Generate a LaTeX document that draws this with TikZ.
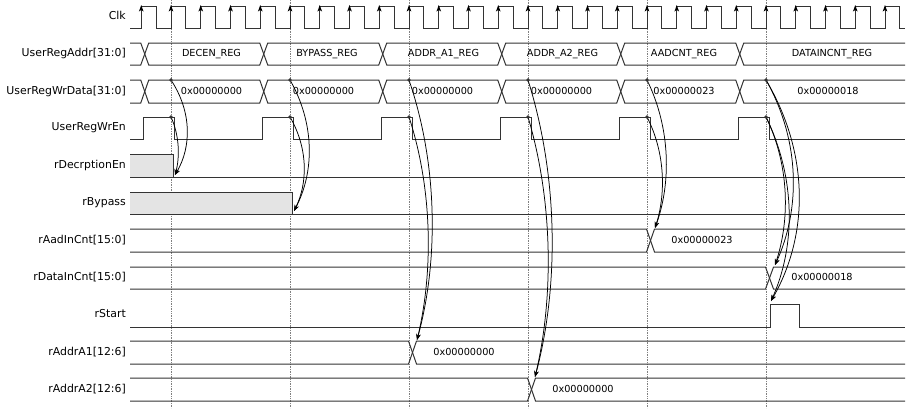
\documentclass[tikz,border=0pt]{standalone}
\usepackage{fontspec}
\setmainfont{DejaVu Sans}
\usetikzlibrary{arrows.meta}
\definecolor{wavecol}{HTML}{333333}
\definecolor{fillcol}{HTML}{E4E4E4}
\definecolor{guidecol}{HTML}{808080}
\newcommand\wvStart[4]{\draw[wave] (#1,#3) -- ({#2-4},#3) -- (#2,{(#3+#4)/2}) -- ({#2-4},#4) -- (#1,#4);}
\newcommand\wvMid[4]{\draw[wave] (#1,{(#3+#4)/2}) -- ({#1+4},#3) -- ({#2-4},#3) -- (#2,{(#3+#4)/2}) -- ({#2-4},#4) -- ({#1+4},#4) -- cycle;}
\newcommand\wvEnd[4]{\draw[wave] (#2,#3) -- ({#1+4},#3) -- (#1,{(#3+#4)/2}) -- ({#1+4},#4) -- (#2,#4);}
\begin{document}
\begin{tikzpicture}[x=1pt,y=-1pt,
  wave/.style={draw=wavecol, line width=1pt},
  guide/.style={draw=guidecol, line width=0.7pt, dash pattern=on 0.8pt off 0.9pt},
  lbl/.style={anchor=east, inner sep=0pt, font=\fontsize{10.9}{12}\selectfont, text height=8pt, text depth=2.2pt},
  val/.style={inner sep=0pt, font=\fontsize{9.7}{11}\selectfont, text height=7pt, text depth=2pt},
  cause/.style={draw=black, line width=0.75pt, -{Stealth[length=6pt,width=4.4pt]}},
  clkarr/.style={fill=black, draw=none},
  dot/.style={circle, fill=wavecol, inner sep=0pt, minimum size=3.6pt}]
\useasboundingbox (0,0) rectangle (907,408);

% guide lines
\foreach \d in {171,290,409,528,647,766} \draw[guide] (\d,0) -- (\d,408);

% labels
\node[lbl] (lclk) at (126,17) {Clk};
\node[lbl] (laddr) at (126,54) {UserRegAddr[31:0]};
\node[lbl] (ldata) at (126,91.5) {UserRegWrData[31:0]};
\node[lbl] (len) at (126,128) {UserRegWrEn};
\node[lbl] (ldec) at (126,165.5) {rDecrptionEn};
\node[lbl] (lbyp) at (126,203) {rBypass};
\node[lbl] (laad) at (126,240.5) {rAadInCnt[15:0]};
\node[lbl] (ldin) at (126,278) {rDataInCnt[15:0]};
\node[lbl] (lst) at (126,315) {rStart};
\node[lbl] (la1) at (126,352.5) {rAddrA1[12:6]};
\node[lbl] (la2) at (126,389.5) {rAddrA2[12:6]};

% clock
\draw[wave] (130,28) \foreach \k in {0,...,25}{ -- ({141.25+29.75*\k},28) -- ({141.25+29.75*\k},6) -- ({156.125+29.75*\k},6) -- ({156.125+29.75*\k},28) } -- (905,28);
\foreach \k in {0,...,25} \fill[clkarr] ({141.25+29.75*\k},5) -- ({141.25+29.75*\k+2.3},11.5) -- ({141.25+29.75*\k},10) -- ({141.25+29.75*\k-2.3},11.5) -- cycle;

% UserRegAddr
\wvStart{130}{144.75}{43}{65}
\wvMid{144.75}{263.75}{43}{65}
\wvMid{263.75}{382.75}{43}{65}
\wvMid{382.75}{501.75}{43}{65}
\wvMid{501.75}{620.75}{43}{65}
\wvMid{620.75}{739.75}{43}{65}
\wvEnd{739.75}{905}{43}{65}
\node[val] (a1) at (211.5,54) {DECEN\_REG};
\node[val] (a2) at (327,54) {BYPASS\_REG};
\node[val] (a3) at (443.5,54) {ADDR\_A1\_REG};
\node[val] (a4) at (562.5,54) {ADDR\_A2\_REG};
\node[val] (a5) at (684,54) {AADCNT\_REG};
\node[val] (a6) at (832,54) {DATAINCNT\_REG};

% UserRegWrData
\wvStart{130}{144.75}{80}{103}
\wvMid{144.75}{263.75}{80}{103}
\wvMid{263.75}{382.75}{80}{103}
\wvMid{382.75}{501.75}{80}{103}
\wvMid{501.75}{620.75}{80}{103}
\wvMid{620.75}{739.75}{80}{103}
\wvEnd{739.75}{905}{80}{103}
\node[val] (d1) at (211.5,91.5) {0x00000000};
\node[val] (d2) at (323.5,91.5) {0x00000000};
\node[val] (d3) at (442.5,91.5) {0x00000000};
\node[val] (d4) at (561.5,91.5) {0x00000000};
\node[val] (d5) at (684,91.5) {0x00000023};
\node[val] (d6) at (828,91.5) {0x00000018};

% UserRegWrEn
\draw[wave] (130,139) \foreach \j in {0,...,5}{ -- ({143.25+119*\j},139) -- ({143.25+119*\j},117) -- ({174+119*\j},117) -- ({174+119*\j},139) } -- (905,139);

% rDecrptionEn
\fill[fillcol] (130,154) rectangle (173,177);
\draw[wave] (130,154) -- (173,154) -- (173,177);
\draw[wave] (130,177) -- (905,177);

% rBypass
\fill[fillcol] (130,192) rectangle (292.5,214);
\draw[wave] (130,192) -- (292.5,192) -- (292.5,214);
\draw[wave] (130,214) -- (905,214);

% rAadInCnt
\wvStart{130}{650.5}{229}{252}
\wvEnd{650.5}{905}{229}{252}
\node[val] (v1) at (702,240.5) {0x00000023};

% rDataInCnt
\wvStart{130}{769.5}{267}{289}
\wvEnd{769.5}{905}{267}{289}
\node[val] (v2) at (822,278) {0x00000018};

% rStart
\draw[wave] (130,327) -- (770,327) -- (770,304) -- (799,304) -- (799,327) -- (905,327);

% rAddrA1
\wvStart{130}{412.5}{341}{364}
\wvEnd{412.5}{905}{341}{364}
\node[val] (v3) at (464,352.5) {0x00000000};

% rAddrA2
\wvStart{130}{531.5}{378}{401}
\wvEnd{531.5}{905}{378}{401}
\node[val] (v4) at (583,389.5) {0x00000000};

% cause points
\foreach \n/\d in {1/171,2/290,3/409,4/528,5/647,6/766}{
  \coordinate (dw\n) at (\d,80);
  \coordinate (ew\n) at (\d,117);
}
\coordinate (t1) at (175,175);
\coordinate (t2) at (294,211);
\coordinate (t3) at (417,340);
\coordinate (t4) at (535,377);
\coordinate (t5) at (655,228);
\coordinate (t6a) at (775,265);
\coordinate (t6b) at (771,301);

% cause arrows
\draw[cause] (ew1) .. controls +(8.7,19.1) and +(4.7,-17.4) .. (t1);
\draw[cause] (dw1) .. controls +(20.7,31.4) and +(16.7,-28.5) .. (t1);
\draw[cause] (ew2) .. controls +(18,31) and +(14,-28.2) .. (t2);
\draw[cause] (dw2) .. controls +(24.7,43.2) and +(20.7,-39.3) .. (t2);
\draw[cause] (ew3) .. controls +(24,73.6) and +(16,-66.9) .. (t3);
\draw[cause] (dw3) .. controls +(29.3,85.8) and +(21.3,-78) .. (t3);
\draw[cause] (ew4) .. controls +(25.5,85.8) and +(18.5,-78) .. (t4);
\draw[cause] (dw4) .. controls +(30.8,98) and +(23.8,-89.1) .. (t4);
\draw[cause] (ew5) .. controls +(18.7,36.6) and +(10.7,-33.3) .. (t5);
\draw[cause] (dw5) .. controls +(24,48.8) and +(16,-44.4) .. (t5);
\draw[cause] (ew6) .. controls +(23.8,48.8) and +(14.8,-44.4) .. (t6a);
\draw[cause] (dw6) .. controls +(34.5,61) and +(25.5,-55.5) .. (t6a);
\draw[cause] (ew6) .. controls +(29.8,60.7) and +(24.8,-55.2) .. (t6b);
\draw[cause] (dw6) .. controls +(43.2,72.9) and +(38.2,-66.3) .. (t6b);

\foreach \n in {1,...,6}{
  \node[dot] (pd\n) at (dw\n) {};
  \node[dot] (pe\n) at (ew\n) {};
}
\end{tikzpicture}
\end{document}
